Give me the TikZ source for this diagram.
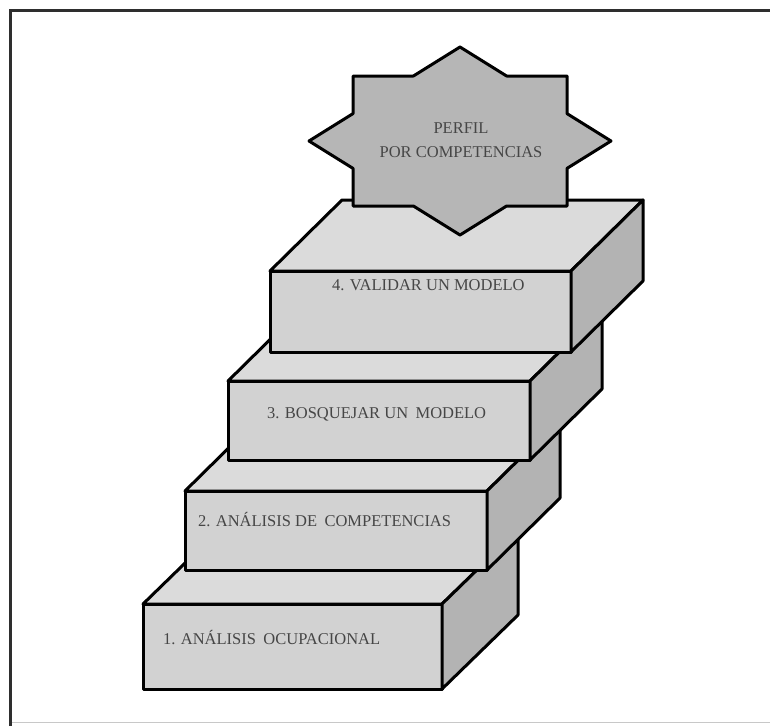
\documentclass[tikz,border=0pt]{standalone}
\usepackage{fontspec}
\setmainfont{Liberation Serif}
\definecolor{frontgray}{HTML}{D2D2D2}
\definecolor{topgray}{HTML}{DBDBDB}
\definecolor{sidegray}{HTML}{B3B3B3}
\definecolor{stargray}{HTML}{B6B6B6}
\definecolor{labelgray}{HTML}{464646}
\definecolor{framedark}{HTML}{2E2E2E}
\definecolor{framelight}{HTML}{C8C8C8}
\tikzset{
  edgeline/.style={draw=black, line width=3pt, line join=round},
  frontface/.style={edgeline, fill=frontgray, rectangle, inner sep=0pt, outer sep=0pt},
  topface/.style={edgeline, fill=topgray},
  sideface/.style={edgeline, fill=sidegray},
  starface/.style={edgeline, fill=stargray},
  lbl/.style={text=labelgray, font=\fontsize{16.5}{24}\selectfont, inner sep=0pt, outer sep=0pt},
}
% name, x, y, width, height, depth-x, depth-y (pixel units, y downward)
\newcommand{\stairblock}[7]{%
  \node[frontface, minimum width=#4pt, minimum height=#5pt, anchor=north west] (#1) at (#2,#3) {};
  \filldraw[topface] (#1.north west) -- ++(#6,-#7) -- ++(#4,0) -- (#1.north east) -- cycle;
  \filldraw[sideface] (#1.north east) -- ++(#6,-#7) -- ++(0,#5) -- (#1.south east) -- cycle;
}
\begin{document}
\begin{tikzpicture}[x=1pt, y=-1pt]
  \useasboundingbox (0,0) rectangle (770,726);
  \fill[white] (0,0) rectangle (770,726);
  % frame
  \coordinate (fr-tl) at (10.5,10.5);
  \coordinate (fr-tr) at (770,10.5);
  \coordinate (fr-bl) at (10.5,726);
  \coordinate (fr-bl2) at (10.5,722.5);
  \coordinate (fr-br) at (770,722.5);
  \draw[framelight, line width=1.5pt] (fr-bl2) -- (fr-br);
  \draw[framedark, line width=3.6pt] (fr-bl) -- (fr-tl) -- (fr-tr);
  % steps
  \stairblock{b1}{143}{604}{299}{85}{76}{74}
  \stairblock{b2}{185}{491}{302}{79}{73}{72}
  \stairblock{b3}{228}{381}{302}{79}{72}{71}
  \stairblock{b4}{270}{271}{301}{81}{72}{71}
  % star
  \coordinate (starc) at (460,141);
  \filldraw[starface] (starc)
    ++(0,-94) -- ++(46.6,29) -- ++(60.4,0) -- ++(0,37.6) -- ++(44,27.4)
    -- ++(-44,27.4) -- ++(0,37.6) -- ++(-60.4,0) -- ++(-46.6,29)
    -- ++(-46.6,-29) -- ++(-60.4,0) -- ++(0,-37.6) -- ++(-44,-27.4)
    -- ++(44,-27.4) -- ++(0,-37.6) -- ++(60.4,0) -- cycle;
  % labels
  \node[lbl, align=center] (perfil) at (461,140) {PERFIL\\POR COMPETENCIAS};
  \node[lbl, anchor=base west] (t4) at (332,290) {4. VALIDAR UN MODELO};
  \node[lbl, anchor=base west] (t3) at (267,418) {3. BOSQUEJAR UN\hspace{0.2em} MODELO};
  \node[lbl, anchor=base west] (t2) at (198,526) {2. ANÁLISIS DE\hspace{0.2em} COMPETENCIAS};
  \node[lbl, anchor=base west] (t1) at (163,644) {1. ANÁLISIS\hspace{0.2em} OCUPACIONAL};
\end{tikzpicture}
\end{document}
